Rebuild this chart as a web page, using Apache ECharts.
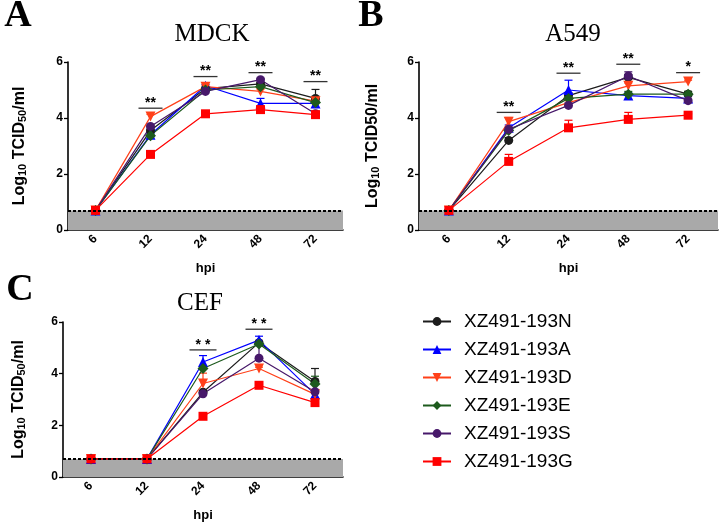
<!DOCTYPE html>
<html>
<head>
<meta charset="utf-8">
<title>TCID50 growth curves</title>
<script src="https://cdn.jsdelivr.net/npm/echarts@6/dist/echarts.min.js"></script>
<style>
html,body{margin:0;padding:0;background:#fff;}
#main{width:720px;height:523px;}
</style>
</head>
<body>
<div id="main"></div>
<script>
// categories / legend
var hpi = ['6', '12', '24', '48', '72'];
var strains = ['XZ491-193N', 'XZ491-193A', 'XZ491-193D', 'XZ491-193E', 'XZ491-193S', 'XZ491-193G'];
var limitValue = 0.7; // detection limit (grey band)

// MDCK, rows follow strains order
var mdckValues = [
	[0.7, 3.55, 5.05, 5.22, 4.7],
	[0.7, 3.4, 5.15, 4.52, 4.52],
	[0.7, 4.05, 5.12, 4.95, 4.6],
	[0.7, 3.37, 5.0, 5.12, 4.55],
	[0.7, 3.7, 4.95, 5.37, 4.15],
	[0.7, 2.7, 4.15, 4.3, 4.12]
];
var mdckErr = [
	[0, 0.05, 0.05, 0.05, 0.32],
	[0, 0.05, 0.05, 0.18, 0.05],
	[0, 0.08, 0.05, 0.08, 0.05],
	[0, 0.05, 0.05, 0.05, 0.05],
	[0, 0.05, 0.05, 0.05, 0.05],
	[0, 0.05, 0.05, 0.05, 0.05]
];
var mdckSig = [[1, 4.35, '**'], [2, 5.48, '**'], [3, 5.62, '**'], [4, 5.3, '**']];

// A549
var a549Values = [
	[0.7, 3.2, 4.8, 5.45, 4.85],
	[0.7, 3.65, 5.0, 4.8, 4.7],
	[0.7, 3.87, 4.55, 5.15, 5.3],
	[0.7, 3.55, 4.7, 4.85, 4.85],
	[0.7, 3.6, 4.45, 5.5, 4.62],
	[0.7, 2.45, 3.65, 3.95, 4.1]
];
var a549Err = [
	[0, 0.1, 0.1, 0.1, 0.1],
	[0, 0.1, 0.35, 0.1, 0.08],
	[0, 0.15, 0.1, 0.1, 0.05],
	[0, 0.08, 0.1, 0.1, 0.1],
	[0, 0.08, 0.08, 0.15, 0.05],
	[0, 0.25, 0.27, 0.25, 0.05]
];
var a549Sig = [[1, 4.2, '**'], [2, 5.6, '**'], [3, 5.92, '**'], [4, 5.62, '*']];

// CEF
var cefValues = [
	[0.7, 0.7, 3.28, 5.2, 3.7],
	[0.7, 0.7, 4.45, 5.3, 3.2],
	[0.7, 0.7, 3.62, 4.2, 3.2],
	[0.7, 0.7, 4.2, 5.15, 3.6],
	[0.7, 0.7, 3.22, 4.6, 3.3],
	[0.7, 0.7, 2.35, 3.55, 2.88]
];
var cefErr = [
	[0, 0, 0.05, 0.05, 0.5],
	[0, 0, 0.25, 0.15, 0.05],
	[0, 0, 0.4, 0.05, 0.05],
	[0, 0, 0.05, 0.05, 0.3],
	[0, 0, 0.05, 0.5, 0.05],
	[0, 0, 0.05, 0.12, 0.05]
];
var cefSig = [[2, 4.92, '* *'], [3, 5.72, '* *']];

var colors = ['#1c1c1c', '#0000ff', '#ff4019', '#1d5a1d', '#47186a', '#ff0000'];
var symbols = ['circle', 'triangle', 'path://M0,0L10,0L5,9Z', 'diamond', 'circle', 'rect'];
var symbolSizes = [9, 10, 10, 11, 9, 9];
var font = '"Liberation Sans", Arial, sans-serif';

var myChart = echarts.init(document.getElementById('main'));

//grey band + dashed limit line
function limitSeries(idx){
	return {
		type: 'line', data: [], xAxisIndex: idx, yAxisIndex: idx, silent: true, z: 1,
		markArea: {
			silent: true,
			itemStyle: {color: '#a9a9a9', opacity: 1},
			data: [[{yAxis: 0}, {yAxis: limitValue}]]
		},
		markLine: {
			silent: true, symbol: 'none', label: {show: false},
			lineStyle: {color: '#000', width: 2, type: [3, 2]},
			data: [{yAxis: limitValue}]
		}
	};
}

//error bars (upper only)
function errSeries(idx, values, errs, i){
	var data = [];
	for(var j = 0; j < values[i].length; j++){
		if(errs[i][j] > 0) data.push([j, values[i][j], errs[i][j]]);
	}
	var c = colors[i];
	return {
		type: 'custom', xAxisIndex: idx, yAxisIndex: idx, z: 2, silent: true,
		data: data,
		renderItem: function(params, api){
			var base = api.coord([api.value(0), api.value(1)]);
			var top = api.coord([api.value(0), api.value(1) + api.value(2)]);
			return {type: 'group', children: [
				{type: 'line', shape: {x1: base[0], y1: base[1], x2: top[0], y2: top[1]}, style: {stroke: c, lineWidth: 1.2}},
				{type: 'line', shape: {x1: top[0] - 4, y1: top[1], x2: top[0] + 4, y2: top[1]}, style: {stroke: c, lineWidth: 1.2}}
			]};
		}
	};
}

//significance bars
function sigSeries(idx, sig, w){
	return {
		type: 'custom', xAxisIndex: idx, yAxisIndex: idx, z: 4, silent: true,
		data: sig.map(function(s){ return [s[0], s[1]]; }),
		renderItem: function(params, api){
			var p = api.coord([api.value(0), api.value(1)]);
			return {type: 'group', children: [
				{type: 'line', shape: {x1: p[0] - w / 2, y1: p[1], x2: p[0] + w / 2, y2: p[1]}, style: {stroke: '#333', lineWidth: 1.3}},
				{type: 'text', style: {text: sig[params.dataIndex][2], x: p[0], y: p[1] + 2,
					align: 'center', verticalAlign: 'bottom', textAlign: 'center', textVerticalAlign: 'bottom',
					font: 'bold 14px ' + font, fill: '#000'}}
			]};
		}
	};
}

function panel(idx, values, errs, sig, w){
	var list = [limitSeries(idx)];
	for(var i = 0; i < strains.length; i++){
		list.push(errSeries(idx, values, errs, i));
	}
	for(var i = 0; i < strains.length; i++){
		list.push({
			type: 'line', name: strains[i], data: values[i],
			xAxisIndex: idx, yAxisIndex: idx, z: 3,
			symbol: symbols[i], symbolSize: symbolSizes[i], showAllSymbol: true,
			lineStyle: {color: colors[i], width: 1.2},
			itemStyle: {color: colors[i]}
		});
	}
	list.push(sigSeries(idx, sig, w));
	return list;
}

function xAxis(idx){
	return {
		type: 'category', gridIndex: idx, data: hpi, boundaryGap: true,
		name: 'hpi', nameLocation: 'middle', nameGap: 32,
		nameTextStyle: {fontFamily: font, fontWeight: 'bold', fontSize: 13, color: '#000'},
		axisLine: {lineStyle: {color: '#000', width: 1.6}},
		axisTick: {alignWithLabel: true, length: 4, lineStyle: {color: '#000', width: 1.3}},
		axisLabel: {rotate: 45, margin: 7, fontFamily: font, fontWeight: 'bold', fontSize: 12, color: '#000'},
		splitLine: {show: false}
	};
}

function yAxis(idx, name, gap){
	return {
		type: 'value', gridIndex: idx, min: 0, max: 6, interval: 2,
		name: name, nameLocation: 'middle', nameRotate: 90, nameGap: gap,
		nameTextStyle: {fontFamily: font, fontWeight: 'bold', fontSize: 16, color: '#000',
			rich: {sub: {fontFamily: font, fontWeight: 'bold', fontSize: 11, color: '#000', verticalAlign: 'bottom', padding: [6, 0, 0, 0]}}},
		axisLine: {show: true, lineStyle: {color: '#000', width: 1.6}},
		axisTick: {show: true, length: 4, lineStyle: {color: '#000', width: 1.3}},
		axisLabel: {fontFamily: font, fontWeight: 'bold', fontSize: 12, color: '#000', margin: 5},
		splitLine: {show: false}
	};
}

function label(text, x, y, size, bold){
	return {type: 'text', x: x, y: y, silent: true, style: {
		text: text, align: 'center', verticalAlign: 'middle', textAlign: 'center', textVerticalAlign: 'middle',
		font: (bold ? 'bold ' : '') + size + 'px "Liberation Serif", "Times New Roman", serif', fill: '#000'}};
}

var option = {
	backgroundColor: '#fff',
	animation: false,
	grid: [
		{left: 68, top: 62, width: 275, height: 168},
		{left: 419, top: 62, width: 299, height: 168},
		{left: 63, top: 322, width: 280, height: 158}
	],
	xAxis: [xAxis(0), xAxis(1), xAxis(2)],
	yAxis: [
		yAxis(0, 'Log{sub|10} TCID{sub|50}/ml', 40),
		yAxis(1, 'Log{sub|10} TCID50/ml', 38),
		yAxis(2, 'Log{sub|10} TCID{sub|50}/ml', 36)
	],
	legend: {
		orient: 'vertical', left: 417, top: 307, itemWidth: 28, itemHeight: 11, itemGap: 9,
		selectedMode: false, data: strains,
		textStyle: {fontFamily: font, fontSize: 19, color: '#000', padding: [0, 0, 0, 8]}
	},
	graphic: [
		label('A', 18, 16, 38, true),
		label('B', 371, 16, 38, true),
		label('C', 20, 290, 38, true),
		label('MDCK', 212, 34, 25, false),
		label('A549', 573, 34, 25, false),
		label('CEF', 200, 303, 25, false)
	],
	series: [].concat(
		panel(0, mdckValues, mdckErr, mdckSig, 24),
		panel(1, a549Values, a549Err, a549Sig, 24),
		panel(2, cefValues, cefErr, cefSig, 27)
	)
};
myChart.setOption(option);
</script>
</body>
</html>
